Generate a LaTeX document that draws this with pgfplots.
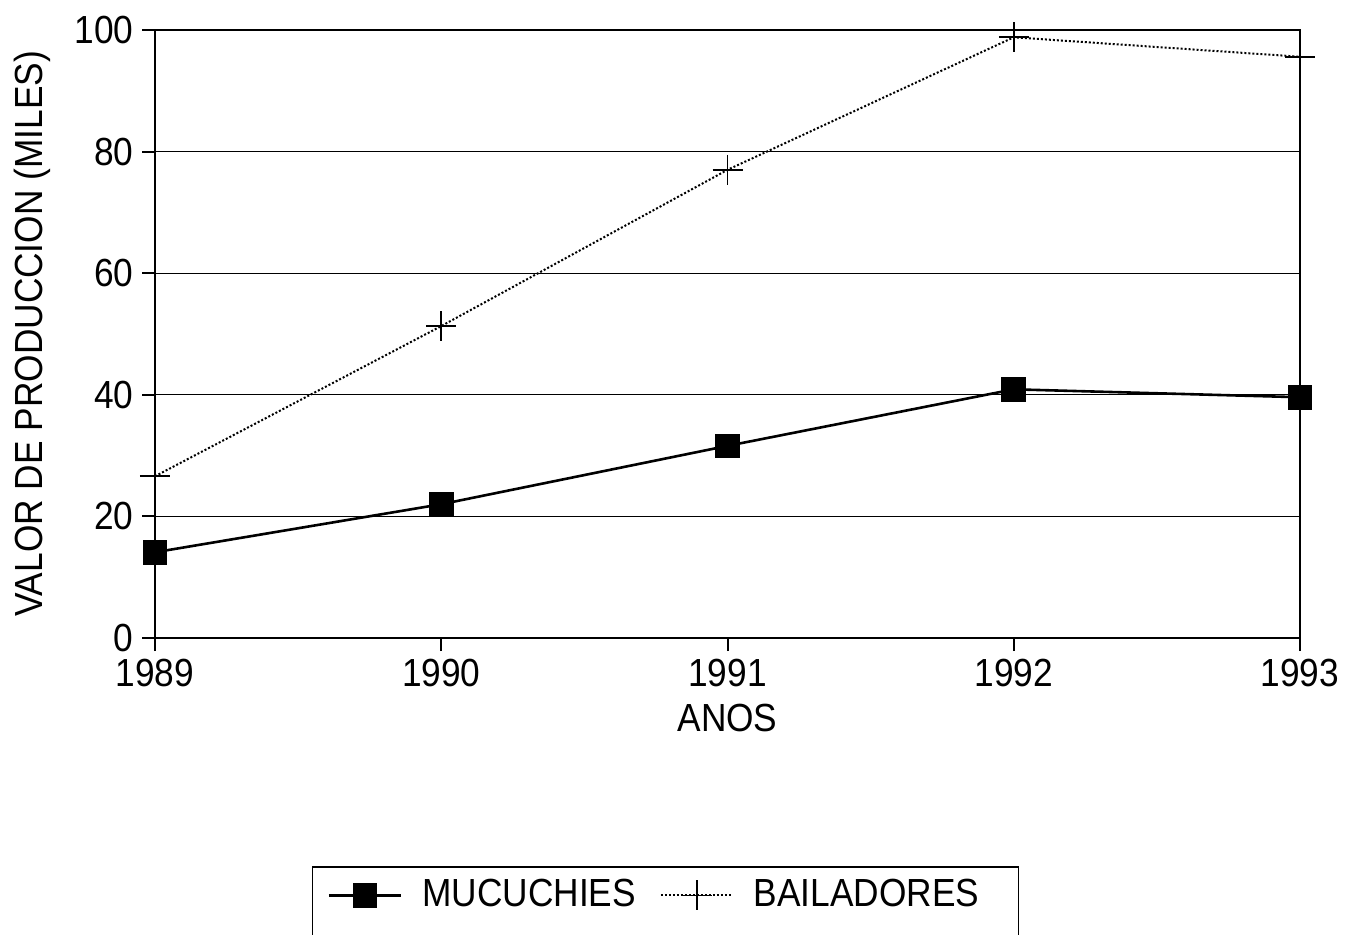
\documentclass[border=0pt]{standalone}
\usepackage{fontspec}
\setmainfont{Liberation Sans}[FakeStretch=0.9]
\usepackage{pgfplots}
\pgfplotsset{compat=1.18}
\begin{document}
\fontsize{19.6}{23}\selectfont
\begin{tikzpicture}
\begin{axis}[
  name=ax,
  scale only axis,
  width=572.5pt, height=304pt,
  xmin=1989, xmax=1993, ymin=0, ymax=100,
  xtick={1989,1990,1991,1992,1993},
  ytick={0,20,40,60,80,100},
  xtick pos=bottom, ytick pos=left,
  tick align=outside,
  major tick length=6.5pt,
  /pgf/number format/1000 sep={},
  /pgf/number format/assume math mode=true,
  tick label style={font=\fontsize{19.6}{23}\selectfont},
  yticklabel style={xshift=2.5pt},
  xticklabel style={yshift=2.5pt},
  label style={font=\fontsize{19.6}{23}\selectfont},
  ymajorgrids,
  grid style={black, line width=0.6pt},
  axis line style={line width=1pt},
  every tick/.style={black, line width=1pt},
  xlabel={ANOS},
  ylabel={VALOR DE PRODUCCION (MILES)},
  xlabel style={yshift=5pt},
  ylabel style={yshift=-1pt},
  clip=false,
  legend columns=2,
  legend style={at={(0.137,-0.375)}, anchor=north west, draw=black, line width=0.8pt,
    font=\fontsize{19.6}{23}\selectfont, inner xsep=7.5pt, inner ysep=4pt,
    /tikz/every odd column/.append style={column sep=8pt},
    /tikz/every even column/.append style={column sep=10pt}},
  legend image code/.code={
    \draw[mark repeat=2,mark phase=2] plot coordinates {(0pt,0pt) (18pt,0pt) (36pt,0pt)};},
]
\addplot[black, line width=1.3pt, mark=square*, mark size=5.5pt, mark options={solid}]
  coordinates {(1989,14.1) (1990,22.0) (1991,31.6) (1992,40.9) (1993,39.6)};
\addlegendentry{MUCUCHIES}
\addplot[black, line width=1pt, densely dotted, mark=+, mark size=7.5pt, mark options={solid, line width=0.9pt}]
  coordinates {(1989,26.6) (1990,51.3) (1991,77.0) (1992,98.8) (1993,95.6)};
\addlegendentry{BAILADORES\rule{10pt}{0pt}}
\addlegendimage{empty legend}\addlegendentry{}
\addlegendimage{empty legend}\addlegendentry{}
\end{axis}
\pgfresetboundingbox
\path[use as bounding box] ([xshift=-77.5pt,yshift=-148.5pt]ax.south west) rectangle ([xshift=596.5pt,yshift=319pt]ax.south west);
\end{tikzpicture}
\end{document}
